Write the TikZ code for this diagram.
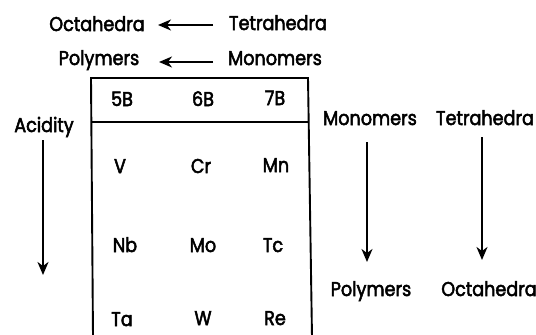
\documentclass[tikz,border=0pt]{standalone}
\usepackage{fontspec}
\setmainfont[FakeStretch=0.88,FakeBold=2.5]{Poppins}
\usetikzlibrary{arrows.meta}
\begin{document}
\begin{tikzpicture}[x=1pt,y=-1pt,
  lbl/.style={font=\fontsize{20}{22}\selectfont, inner sep=0pt, anchor=base},
  trend/.style={line width=1.9pt, -{Stealth[length=13pt,width=11pt,inset=4pt]}},
  frame/.style={line width=1.9pt}]
\useasboundingbox (0,0) rectangle (536,335);

% trends written across the top
\node[lbl] (octa1) at (97,31) {Octahedra};
\node[lbl] (tetra1) at (278,30) {Tetrahedra};
\node[lbl] (poly1) at (99,65) {Polymers};
\node[lbl] (mono1) at (275,65) {Monomers};
\coordinate (t1a) at (213,25);
\coordinate (o1a) at (158,25);
\coordinate (m1a) at (213,62);
\coordinate (p1a) at (159,62);
\draw[trend] (t1a) -- (o1a);
\draw[trend] (m1a) -- (p1a);

% table of groups 5B-7B, open at the bottom
\coordinate (tl) at (91,78);
\coordinate (tr) at (308,78);
\coordinate (bl) at (93,337);
\coordinate (br) at (312,337);
\coordinate (hl) at (91,122);
\coordinate (hr) at (309,122);
\draw[frame] (bl) -- (tl) -- (tr) -- (br);
\draw[frame] (hl) -- (hr);

\node[lbl] (g5) at (122,106) {5B};
\node[lbl] (g6) at (203,106) {6B};
\node[lbl] (g7) at (275,105) {7B};

\node[lbl] (V)  at (120,173) {V};
\node[lbl] (Cr) at (201,173) {Cr};
\node[lbl] (Mn) at (276,172) {Mn};
\node[lbl] (Nb) at (125,252) {Nb};
\node[lbl] (Mo) at (203,252) {Mo};
\node[lbl] (Tc) at (273,252) {Tc};
\node[lbl] (Ta) at (122,326) {Ta};
\node[lbl] (W)  at (203,325) {W};
\node[lbl] (Re) at (275,325) {Re};

% acidity trend on the left
\node[lbl] (acid) at (44,132) {Acidity};
\coordinate (acidtop) at (43,140);
\coordinate (acidend) at (43,275);
\draw[trend] (acidtop) -- (acidend);

% trends down the groups on the right
\node[lbl] (mono2) at (370,125) {Monomers};
\node[lbl] (tetra2) at (485,125) {Tetrahedra};
\node[lbl] (poly2) at (371,296) {Polymers};
\node[lbl] (octa2) at (489,296) {Octahedra};
\coordinate (m2a) at (367,142);
\coordinate (p2a) at (367,262);
\coordinate (t2a) at (482,137);
\coordinate (o2a) at (482,260);
\draw[trend] (m2a) -- (p2a);
\draw[trend] (t2a) -- (o2a);
\end{tikzpicture}
\end{document}
